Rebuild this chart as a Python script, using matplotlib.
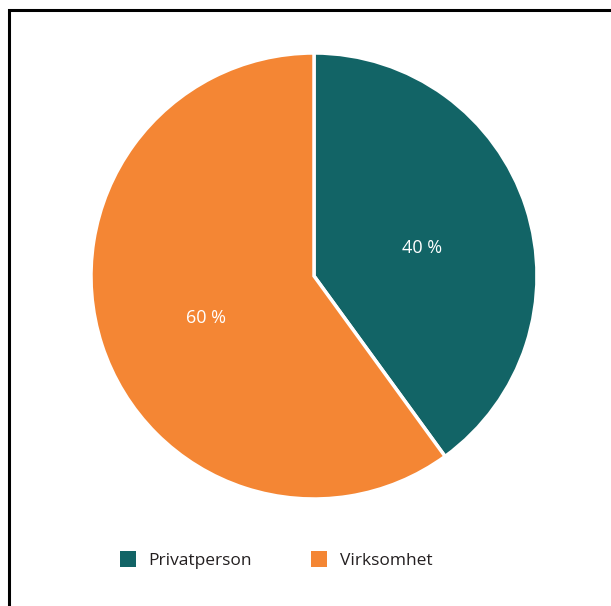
import matplotlib.pyplot as plt
from matplotlib.patches import Rectangle, Patch

plt.rcParams['font.family'] = ['Open Sans', 'DejaVu Sans']

categories = ["Privatperson", "Virksomhet"]
values = [40, 60]
colors = ["#126466", "#F48634"]

fig = plt.figure(figsize=(6.11, 6.06), dpi=100)

# ramme rundt figuren (høyre/nedre kant utenfor bildet)
fig.patches.append(Rectangle((9 / 611, -0.05), 1.1, 1 - 10 / 606 + 0.05,
                             transform=fig.transFigure, fill=False,
                             edgecolor="black", linewidth=2.2))

r = 223
cx, cy = 314, 276
ax = fig.add_axes([(cx - r) / 611, (606 - cy - r) / 606, 2 * r / 611, 2 * r / 606])

wedges, texts, autotexts = ax.pie(
    values,
    colors=colors,
    startangle=90,
    counterclock=False,
    autopct=lambda p: f"{p:.0f} %",
    pctdistance=0.51,
    wedgeprops=dict(edgecolor="white", linewidth=2.5),
    textprops=dict(color="white", fontsize=13),
)
for t in autotexts:
    x, y = t.get_position()
    t.set_position((x, y - 0.03))

ax.set_xlim(-1, 1)
ax.set_ylim(-1, 1)
ax.set_aspect("equal")

handles = [Patch(facecolor=c, edgecolor="none") for c in colors]
fig.legend(handles, categories, loc="center", bbox_to_anchor=(276 / 611, 1 - 560 / 606),
           ncol=2, frameon=False, fontsize=12.5, handlelength=0.95, handleheight=1.0,
           handletextpad=0.7, columnspacing=3.4, labelcolor="#231f20")

plt.savefig("out.png", dpi=100)
plt.close()
